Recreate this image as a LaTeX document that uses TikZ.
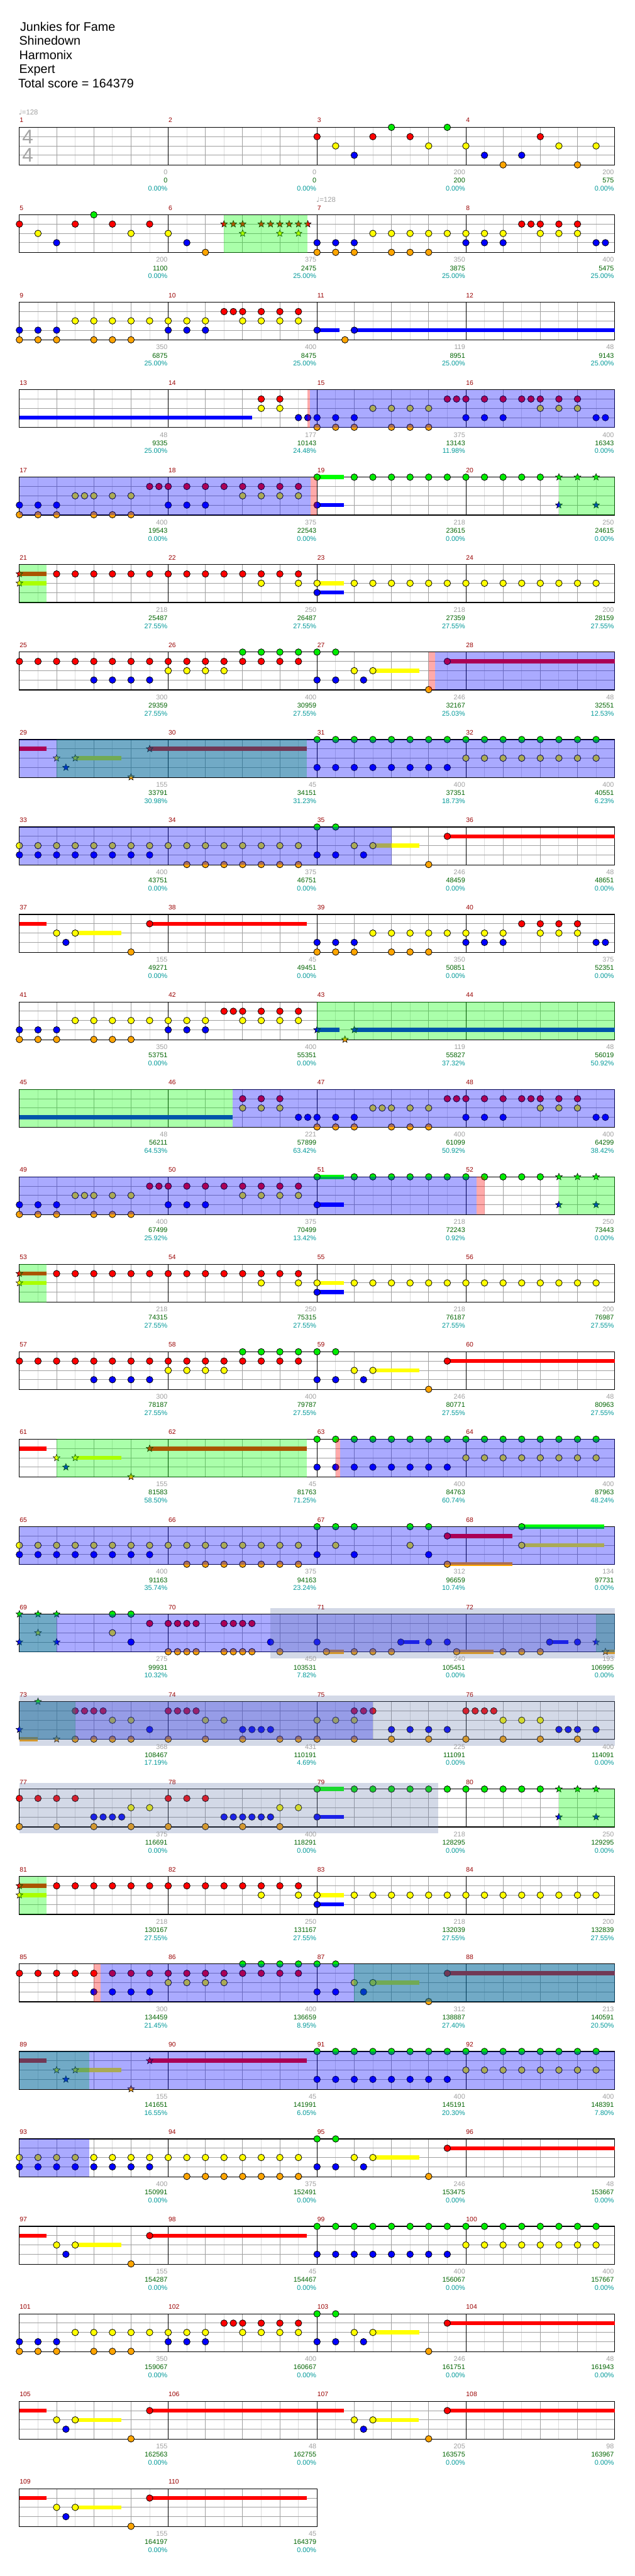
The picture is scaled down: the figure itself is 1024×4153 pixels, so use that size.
\documentclass[tikz,border=0pt]{standalone}
\usepackage{fontspec}
\setmainfont{Liberation Sans}
\newfontfamily\djv{DejaVu Sans}
\usetikzlibrary{shapes.geometric}
\pgfdeclarelayer{bgl}
\pgfdeclarelayer{fgl}
\pgfdeclarelayer{fglb}
\pgfdeclarelayer{topl}
\pgfsetlayers{bgl,main,fgl,fglb,topl}
\definecolor{cR}{RGB}{255,0,0}
\definecolor{cY}{RGB}{255,255,0}
\definecolor{cB}{RGB}{0,0,255}
\definecolor{cG}{RGB}{0,235,0}
\definecolor{cO}{RGB}{255,165,0}
\definecolor{oG}{RGB}{0,255,0}
\definecolor{mnum}{RGB}{153,0,0}
\definecolor{lgray}{RGB}{160,160,160}
\definecolor{lgreen}{RGB}{0,100,0}
\definecolor{lteal}{RGB}{0,153,153}
\definecolor{gridl}{RGB}{220,220,220}
\definecolor{gridd}{RGB}{160,160,160}
\definecolor{bandY}{RGB}{255,255,204}
\definecolor{bandS}{RGB}{100,120,170}
\definecolor{tsig}{RGB}{165,165,165}
\tikzset{
  st/.style={star, star points=5, star point ratio=2.3, minimum size=11.5pt, inner sep=0pt, draw=black, line width=0.6pt},
  mlab/.style={anchor=base west, text=mnum, font=\fontsize{10.5}{12}\selectfont, inner sep=0pt},
  blab/.style={anchor=base east, font=\fontsize{11}{13}\selectfont, inner sep=0pt},
  note/.style={draw=black, line width=0.8pt},
}
% notes
\newcommand\nG[1]{\foreach \p in {#1}{\filldraw[note,fill=cG] ({15*\p},0) circle[radius=5.3];}}
\newcommand\nR[1]{\foreach \p in {#1}{\filldraw[note,fill=cR] ({15*\p},15) circle[radius=5.3];}}
\newcommand\nY[1]{\foreach \p in {#1}{\filldraw[note,fill=cY] ({15*\p},30) circle[radius=5.3];}}
\newcommand\nB[1]{\foreach \p in {#1}{\filldraw[note,fill=cB] ({15*\p},45) circle[radius=5.3];}}
\newcommand\nO[1]{\foreach \p in {#1}{\filldraw[note,fill=cO] ({15*\p},60.5) circle[radius=5.3];}}
% star notes
\newcommand\sG[1]{\foreach \p in {#1}{\node[st,fill=cG] at ({15*\p},0) {};}}
\newcommand\sR[1]{\foreach \p in {#1}{\node[st,fill=cR] at ({15*\p},15) {};}}
\newcommand\sY[1]{\foreach \p in {#1}{\node[st,fill=cY] at ({15*\p},30) {};}}
\newcommand\sB[1]{\foreach \p in {#1}{\node[st,fill=cB] at ({15*\p},45) {};}}
\newcommand\sO[1]{\foreach \p in {#1}{\node[st,fill=cO] at ({15*\p},60.5) {};}}
% fill lines: lane y, colour, from, to
\newcommand\fl[4]{\fill[#2] ({15*#3},{#1-3.3}) rectangle ({15*#4},{#1+3.3});}
\newcommand\flG[2]{\fl{0}{oG}{#1}{#2}}
\newcommand\flR[2]{\fl{15}{cR}{#1}{#2}}
\newcommand\flY[2]{\fl{30}{cY}{#1}{#2}}
\newcommand\flB[2]{\fl{45}{cB}{#1}{#2}}
\newcommand\flO[2]{\fl{60.5}{cO}{#1}{#2}}
% overlays
\newcommand\ovG[2]{\begin{pgfonlayer}{fgl}\fill[oG,opacity=0.333] ({15*#1},0) rectangle ({15*#2},61);\end{pgfonlayer}}
\newcommand\ovB[2]{\begin{pgfonlayer}{fgl}\fill[cB,opacity=0.333] ({15*#1},0) rectangle ({15*#2},61);\end{pgfonlayer}}
\newcommand\ovP[2]{\begin{pgfonlayer}{fgl}\fill[cR,opacity=0.333] ({15*#1},0) rectangle ({15*#2},61);\end{pgfonlayer}}
\newcommand\band[2]{\begin{pgfonlayer}{bgl}\fill[bandY] ({15*#1},-10) rectangle ({15*#2},71);\end{pgfonlayer}\ovG{#1}{#2}}
\newcommand\sband[2]{\begin{pgfonlayer}{fglb}\fill[bandS,opacity=0.28] ({15*#1},-10) rectangle ({15*#2},71);\end{pgfonlayer}}
% staff
\newcommand\Staff[2]{%
  \pgfmathsetmacro\W{240*#1}%
  \pgfmathtruncatemacro\nb{4*#1-1}%
  \fill[white] (0,0) rectangle (\W,61);
  \foreach \i in {0,...,\nb} \draw[gridl,line width=0.9pt] ({30+60*\i},0) -- ({30+60*\i},61);
  \foreach \i in {1,...,\nb} {\pgfmathtruncatemacro\mm{mod(\i,4)}\ifnum\mm>0 \draw[gridd,line width=0.9pt] ({60*\i},0) -- ({60*\i},61);\fi}
  \foreach \yy in {15,30,45} \draw[gridd,line width=1pt] (0,\yy) -- (\W,\yy);
  \foreach \i in {1,...,\nb} {\pgfmathtruncatemacro\mm{mod(\i,4)}\ifnum\mm=0 \draw[black,line width=0.9pt] ({60*\i},0) -- ({60*\i},61);\fi}
  \draw[black,line width=1.2pt] (0,0) rectangle (\W,61);
  \foreach \m in {1,...,#1} {\pgfmathtruncatemacro\mn{#2+\m-1}\node[mlab] at ({240*(\m-1)+0.3},-7.6) {\mn};}
}
\newcommand\Lab[4]{\begin{pgfonlayer}{topl}
  \node[blab,text=lgray] at ({240*#1-1},76.4) {#2};
  \node[blab,text=lgreen] at ({240*#1-1},89.7) {#3};
  \node[blab,text=lteal] at ({240*#1-1},102.7) {#4\%};
  \end{pgfonlayer}}
\newcommand\Tempo[1]{\node[anchor=base west,inner sep=0pt,text=lgray,font=\fontsize{11.5}{12}\selectfont] at ({#1-1.3},-20) {{\djv\fontsize{11}{12}\selectfont ♩}=128};}
\begin{document}
\begin{tikzpicture}[x=1pt,y=-1pt]
\useasboundingbox (0,0) rectangle (1024,4153);
\fill[white] (0,0) rectangle (1024,4153);
% header
\begin{scope}[every node/.style={anchor=base west,inner sep=0pt,font=\fontsize{20}{24}\selectfont}]
\node (title) at (32.3,49.8) {Junkies for Fame};
\node (artist) at (30.8,72.5) {Shinedown};
\node (charter) at (30.8,95.5) {Harmonix};
\node (diff) at (30.8,118.5) {Expert};
\node (total) at (29.3,141.5) {Total score = 164379};
\end{scope}
% ---------------- row 1
\begin{scope}[shift={(31.3,205.3)}]
\Staff{4}{1}
\node[text=tsig,font=\fontsize{32}{32}\selectfont,inner sep=0pt] at (13.4,15.5) {4};
\node[text=tsig,font=\fontsize{32}{32}\selectfont,inner sep=0pt] at (13.4,45.2) {4};
\Tempo{0}
\nR{32,38,42,56}\nY{34,44,48,58,62}\nB{36,50,54}\nG{40,46}\nO{52,60}
\Lab{1}{0}{0}{0.00}\Lab{2}{0}{0}{0.00}\Lab{3}{200}{200}{0.00}\Lab{4}{200}{575}{0.00}
\end{scope}
% ---------------- row 2
\begin{scope}[shift={(31.3,346.3)}]
\Staff{4}{5}
\Tempo{480}
\band{22}{30.96}
\nR{0,6,10,14,54,55,56,58,60}
\nY{2,12,16,38,40,42,44,46,48,50,52,56,58,60}
\nB{4,18,32,34,36,48,50,52,62,63}
\nG{8}\nO{20,32,34,36,40,42,44}
\sR{22,23,24,26,27,28,29,30,31}\sY{24,28,30}
\Lab{1}{200}{1100}{0.00}\Lab{2}{375}{2475}{25.00}\Lab{3}{350}{3875}{25.00}\Lab{4}{400}{5475}{25.00}
\end{scope}
% ---------------- row 3
\begin{scope}[shift={(31.3,487.3)}]
\Staff{4}{9}
\flB{32}{34.4}\flB{36}{64}
\nB{0,2,4,16,18,20,32,36}\nO{0,2,4,8,10,12,35}
\nY{6,8,10,12,14,16,18,20,24,26,28,30}\nR{22,23,24,26,28,30}
\Lab{1}{350}{6875}{25.00}\Lab{2}{400}{8475}{25.00}\Lab{3}{119}{8951}{25.00}\Lab{4}{48}{9143}{25.00}
\end{scope}
% ---------------- row 4
\begin{scope}[shift={(31.3,628.3)}]
\Staff{4}{13}
\flB{0}{25}
\nR{26,28,46,47,48,50,52,54,55,56,58,60}
\nY{26,28,38,40,42,44,56,58,60}
\nB{30,31,32,34,36,48,50,52,62,63}
\nO{32,34,36,40,42,44}
\ovP{31}{31.27}\ovB{31.27}{64}
\Lab{1}{48}{9335}{25.00}\Lab{2}{177}{10143}{24.48}\Lab{3}{375}{13143}{11.98}\Lab{4}{400}{16343}{0.00}
\end{scope}
% ---------------- row 5
\begin{scope}[shift={(31.3,769.3)}]
\Staff{4}{17}
\flG{32}{34.9}\flB{32}{34.9}
\nB{0,2,4,16,18,20,32}\nO{0,2,4,8,10,12}
\nY{6,7,8,10,12,24,26,28,30}\nR{14,15,16,18,20,22,24,26,28,30}
\nG{32,36,38,40,42,44,46,48,50,52,54,56}
\sG{58,60,62}\sB{58,62}
\ovB{0}{31.3}\ovP{31.3}{32}\band{58}{64}
\Lab{1}{400}{19543}{0.00}\Lab{2}{375}{22543}{0.00}\Lab{3}{218}{23615}{0.00}\Lab{4}{250}{24615}{0.00}
\end{scope}
% ---------------- row 6
\begin{scope}[shift={(31.3,910.3)}]
\Staff{4}{21}
\band{0}{2.92}
\flR{0}{2.92}\flY{0}{2.92}\sR{0}\sY{0}
\nR{4,6,...,30}
\flY{32}{34.9}\flB{32}{34.9}
\nY{26,30,32,36,38,...,62}\nB{32}
\Lab{1}{218}{25487}{27.55}\Lab{2}{250}{26487}{27.55}\Lab{3}{218}{27359}{27.55}\Lab{4}{200}{28159}{27.55}
\end{scope}
% ---------------- row 7
\begin{scope}[shift={(31.3,1051.3)}]
\Staff{4}{25}
\flY{38}{43}\flR{46}{64}
\nR{0,2,...,30,46}\nB{8,10,12,14,32,34,37}\nY{16,18,20,22,36,38}
\nG{24,26,28,30,32,34}\nO{44}
\ovP{44}{44.71}\ovB{44.71}{64}
\Lab{1}{300}{29359}{27.55}\Lab{2}{400}{30959}{27.55}\Lab{3}{246}{32167}{25.03}\Lab{4}{48}{32551}{12.53}
\end{scope}
% ---------------- row 8
\begin{scope}[shift={(31.3,1192.3)}]
\Staff{4}{29}
\flR{0}{2.92}\flY{6}{10.93}\flR{14}{30.91}
\sY{4,6}\sB{5}\sO{12}\sR{14}
\nG{32,34,...,62}\nB{32,34,...,46}\nY{48,50,...,62}
\ovG{4}{30.91}\ovB{0}{64}
\Lab{1}{155}{33791}{30.98}\Lab{2}{45}{34151}{31.23}\Lab{3}{400}{37351}{18.73}\Lab{4}{400}{40551}{6.23}
\end{scope}
% ---------------- row 9
\begin{scope}[shift={(31.3,1333.3)}]
\Staff{4}{33}
\flY{38}{43}\flR{46}{64}
\nY{0,2,...,30,36,38}\nB{0,2,...,14,32,34,37}\nO{18,20,...,30,44}\nG{32,34}\nR{46}
\ovB{0}{40}
\Lab{1}{400}{43751}{0.00}\Lab{2}{375}{46751}{0.00}\Lab{3}{246}{48459}{0.00}\Lab{4}{48}{48651}{0.00}
\end{scope}
% ---------------- row 10
\begin{scope}[shift={(31.3,1474.3)}]
\Staff{4}{37}
\flR{0}{2.92}\flY{6}{10.93}\flR{14}{30.91}
\nY{4,6}\nB{5}\nO{12}\nR{14}
\nB{32,34,36,48,50,52,62,63}\nO{32,34,36,40,42,44}
\nY{38,40,...,52,56,58,60}\nR{54,56,58,60}
\Lab{1}{155}{49271}{0.00}\Lab{2}{45}{49451}{0.00}\Lab{3}{350}{50851}{0.00}\Lab{4}{375}{52351}{0.00}
\end{scope}
% ---------------- row 11
\begin{scope}[shift={(31.3,1615.3)}]
\Staff{4}{41}
\nB{0,2,4,16,18,20}\nO{0,2,4,8,10,12}
\nY{6,8,...,20,24,26,28,30}\nR{22,23,24,26,28,30}
\flB{32}{34.4}\flB{36}{64}\sB{32,36}\sO{35}
\ovG{32}{64}
\Lab{1}{350}{53751}{0.00}\Lab{2}{400}{55351}{0.00}\Lab{3}{119}{55827}{37.32}\Lab{4}{48}{56019}{50.92}
\end{scope}
% ---------------- row 12
\begin{scope}[shift={(31.3,1756.3)}]
\Staff{4}{45}
\flB{0}{22.95}
\nR{24,26,28,46,47,48,50,52,54,55,56,58,60}
\nY{24,26,28,38,39,40,42,44,56,58,60}
\nB{30,31,32,34,36,48,50,52,62,63}
\nO{32,34,36,40,42,44}
\ovG{0}{22.95}\ovB{22.95}{64}
\Lab{1}{48}{56211}{64.53}\Lab{2}{221}{57899}{63.42}\Lab{3}{400}{61099}{50.92}\Lab{4}{400}{64299}{38.42}
\end{scope}
% ---------------- row 13
\begin{scope}[shift={(31.3,1897.3)}]
\Staff{4}{49}
\flG{32}{34.9}\flB{32}{34.9}
\nB{0,2,4,16,18,20,32}\nO{0,2,4,8,10,12}
\nY{6,7,8,10,12,24,26,28,30}\nR{14,15,16,18,20,22,24,26,28,30}
\nG{32,36,38,...,56}
\sG{58,60,62}\sB{58,62}
\ovB{0}{49.15}\ovP{49.15}{50}\band{58}{64}
\Lab{1}{400}{67499}{25.92}\Lab{2}{375}{70499}{13.42}\Lab{3}{218}{72243}{0.92}\Lab{4}{250}{73443}{0.00}
\end{scope}
% ---------------- row 14
\begin{scope}[shift={(31.3,2038.3)}]
\Staff{4}{53}
\band{0}{2.92}
\flR{0}{2.92}\flY{0}{2.92}\sR{0}\sY{0}
\nR{4,6,...,30}
\flY{32}{34.9}\flB{32}{34.9}
\nY{26,30,32,36,38,...,62}\nB{32}
\Lab{1}{218}{74315}{27.55}\Lab{2}{250}{75315}{27.55}\Lab{3}{218}{76187}{27.55}\Lab{4}{200}{76987}{27.55}
\end{scope}
% ---------------- row 15
\begin{scope}[shift={(31.3,2179.3)}]
\Staff{4}{57}
\flY{38}{43}\flR{46}{64}
\nR{0,2,...,30,46}\nB{8,10,12,14,32,34,37}\nY{16,18,20,22,36,38}
\nG{24,26,28,30,32,34}\nO{44}
\Lab{1}{300}{78187}{27.55}\Lab{2}{400}{79787}{27.55}\Lab{3}{246}{80771}{27.55}\Lab{4}{48}{80963}{27.55}
\end{scope}
% ---------------- row 16
\begin{scope}[shift={(31.3,2320.3)}]
\Staff{4}{61}
\flR{0}{2.92}\flY{6}{10.93}\flR{14}{30.91}
\sY{4,6}\sB{5}\sO{12}\sR{14}
\nG{32,34,...,62}\nB{32,34,...,46}\nY{48,50,...,62}
\ovG{4}{30.91}\ovP{34}{34.48}\ovB{34.48}{64}
\Lab{1}{155}{81583}{58.50}\Lab{2}{45}{81763}{71.25}\Lab{3}{400}{84763}{60.74}\Lab{4}{400}{87963}{48.24}
\end{scope}
% ---------------- row 17
\begin{scope}[shift={(31.3,2461.3)}]
\Staff{4}{65}
\flY{54}{62.9}\flO{46}{53}\flG{54}{62.9}\flR{46}{53}
\nY{0,2,...,30,34,42,54}\nB{0,2,...,14,32,36,44}\nO{18,20,...,30,46}
\nG{32,34,36,42,44,54}\nR{46}
\ovB{0}{64}
\Lab{1}{400}{91163}{35.74}\Lab{2}{375}{94163}{23.24}\Lab{3}{312}{96659}{10.74}\Lab{4}{134}{97731}{0.00}
\end{scope}
% ---------------- row 18
\begin{scope}[shift={(31.3,2602.3)}]
\Staff{4}{69}
\band{0}{4}
\flO{33}{34.9}\flO{47}{51}\flB{41}{43}\flB{57}{59}\flO{63}{64}
\sG{0,2,4}\sY{2}\sB{0,4}
\nG{10,12}\nY{10}\nB{12}
\nR{14,16,17,18,19,22,23,24,25}
\nO{16,17,18,19,22,23,24,25,28,33,36,38,40,47,52,54,56}
\nB{27,32,41,44,46,57,60}
\sB{62}\sO{63}
\ovG{62}{64}\ovB{0}{64}\sband{27}{64}
\Lab{1}{275}{99931}{10.32}\Lab{2}{450}{103531}{7.82}\Lab{3}{240}{105451}{0.00}\Lab{4}{193}{106995}{0.00}
\end{scope}
% ---------------- row 19
\begin{scope}[shift={(31.3,2743.3)}]
\Staff{4}{73}
\flO{0}{2}
\sB{0}\sG{2}\sO{4}
\nR{6,7,8,9}\nO{6,8,10,12}\nY{10,12}\nB{14}
\nR{16,17,18,19}\nY{20,22}\nB{24,25,26,27}\nO{16,20,24,28,30}
\nY{32,34,36}\nR{36,37,38}\nB{40,42,44,46}\nO{32,36,40,44}
\nR{48,49,50,51}\nY{52,54,56}\nB{58,59,60,62}\nO{48,52,56,60}
\ovG{0}{6}\ovB{0}{38}\sband{0}{64}
\Lab{1}{368}{108467}{17.19}\Lab{2}{431}{110191}{4.69}\Lab{3}{225}{111091}{0.00}\Lab{4}{400}{114091}{0.00}
\end{scope}
% ---------------- row 20
\begin{scope}[shift={(31.3,2884.3)}]
\Staff{4}{77}
\nR{0,2,4,6}\nO{0,4,8,12}\nB{8,9,10,11}\nY{12,14}
\nR{16,18,20}\nB{22,23,24,25,26,27}\nO{16,20,24,28}\nY{28,30}
\flG{32}{34.9}\flB{32}{34.9}
\nG{32,36,38,...,56}\nB{32}
\sG{58,60,62}\sB{58,62}
\sband{0}{45}\band{58}{64}
\Lab{1}{375}{116691}{0.00}\Lab{2}{400}{118291}{0.00}\Lab{3}{218}{128295}{0.00}\Lab{4}{250}{129295}{0.00}
\end{scope}
% ---------------- row 21
\begin{scope}[shift={(31.3,3025.3)}]
\Staff{4}{81}
\band{0}{2.92}
\flR{0}{2.92}\flY{0}{2.92}\sR{0}\sY{0}
\nR{4,6,...,30}
\flY{32}{34.9}\flB{32}{34.9}
\nY{26,30,32,36,38,...,62}\nB{32}
\Lab{1}{218}{130167}{27.55}\Lab{2}{250}{131167}{27.55}\Lab{3}{218}{132039}{27.55}\Lab{4}{200}{132839}{27.55}
\end{scope}
% ---------------- row 22
\begin{scope}[shift={(31.3,3166.3)}]
\Staff{4}{85}
\flY{38}{43}\flR{46}{64}
\nR{0,2,...,30,46}\nB{8,10,12,14,32,34,37}\nY{16,18,20,22,36,38}
\nG{24,26,28,30,32,34}\nO{44}
\ovP{8}{8.7}\ovG{36}{64}\ovB{8.7}{64}
\Lab{1}{300}{134459}{21.45}\Lab{2}{400}{136659}{8.95}\Lab{3}{312}{138887}{27.40}\Lab{4}{213}{140591}{20.50}
\end{scope}
% ---------------- row 23
\begin{scope}[shift={(31.3,3307.3)}]
\Staff{4}{89}
\flR{0}{2.92}\flY{6}{10.93}\flR{14}{30.91}
\sY{4,6}\sB{5}\sO{12}\sR{14}
\nG{32,34,...,62}\nB{32,34,...,46}\nY{48,50,...,62}
\ovG{0}{7.5}\ovB{0}{64}
\Lab{1}{155}{141651}{16.55}\Lab{2}{45}{141991}{6.05}\Lab{3}{400}{145191}{20.30}\Lab{4}{400}{148391}{7.80}
\end{scope}
% ---------------- row 24
\begin{scope}[shift={(31.3,3448.3)}]
\Staff{4}{93}
\flY{38}{43}\flR{46}{64}
\nY{0,2,...,30,36,38}\nB{0,2,...,14,32,34,37}\nO{18,20,...,30,44}\nG{32,34}\nR{46}
\ovB{0}{7.5}
\Lab{1}{400}{150991}{0.00}\Lab{2}{375}{152491}{0.00}\Lab{3}{246}{153475}{0.00}\Lab{4}{48}{153667}{0.00}
\end{scope}
% ---------------- row 25
\begin{scope}[shift={(31.3,3589.3)}]
\Staff{4}{97}
\flR{0}{2.92}\flY{6}{10.93}\flR{14}{30.91}
\nY{4,6}\nB{5}\nO{12}\nR{14}
\nG{32,34,...,62}\nB{32,34,...,46}\nY{48,50,...,62}
\Lab{1}{155}{154287}{0.00}\Lab{2}{45}{154467}{0.00}\Lab{3}{400}{156067}{0.00}\Lab{4}{400}{157667}{0.00}
\end{scope}
% ---------------- row 26
\begin{scope}[shift={(31.3,3730.3)}]
\Staff{4}{101}
\nB{0,2,4,16,18,20}\nO{0,2,4,8,10,12}
\nY{6,8,...,20,24,26,28,30}\nR{22,23,24,26,28,30}
\flY{38}{43}\flR{46}{64}
\nY{36,38}\nB{32,34,37}\nO{44}\nG{32,34}\nR{46}
\Lab{1}{350}{159067}{0.00}\Lab{2}{400}{160667}{0.00}\Lab{3}{246}{161751}{0.00}\Lab{4}{48}{161943}{0.00}
\end{scope}
% ---------------- row 27
\begin{scope}[shift={(31.3,3871.3)}]
\Staff{4}{105}
\flR{0}{2.92}\flY{6}{10.93}\flR{14}{32}
\nY{4,6}\nB{5}\nO{12}\nR{14}
\flR{32}{34.92}\flY{38}{42.93}\flR{46}{64}
\nY{36,38}\nB{37}\nO{44}\nR{46}
\Lab{1}{155}{162563}{0.00}\Lab{2}{48}{162755}{0.00}\Lab{3}{205}{163575}{0.00}\Lab{4}{98}{163967}{0.00}
\end{scope}
% ---------------- row 28
\begin{scope}[shift={(31.3,4012.3)}]
\Staff{2}{109}
\flR{0}{2.92}\flY{6}{10.93}\flR{14}{30.91}
\nY{4,6}\nB{5}\nO{12}\nR{14}
\Lab{1}{155}{164197}{0.00}\Lab{2}{45}{164379}{0.00}
\end{scope}
\end{tikzpicture}
\end{document}
